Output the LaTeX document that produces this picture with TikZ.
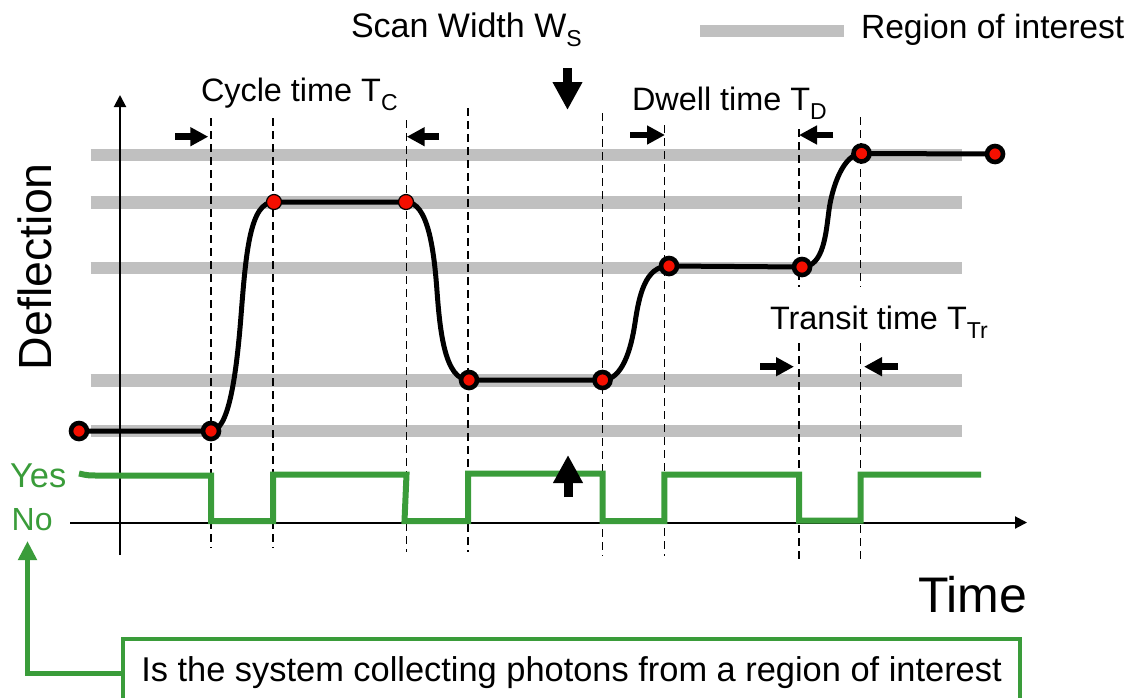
\documentclass[tikz,border=0pt]{standalone}
\usepackage{fontspec}
\setmainfont{Liberation Sans}
\usetikzlibrary{arrows.meta}
\definecolor{sig}{RGB}{58,156,58}
\definecolor{roigray}{RGB}{192,192,192}
\definecolor{dotred}{RGB}{245,15,0}
\newcommand{\lowsub}[1]{\raisebox{-9pt}{\fontsize{23}{26}\selectfont #1}}
\newcommand{\fs}[1]{\fontsize{#1}{#1}\selectfont}
\begin{document}
\begin{tikzpicture}[x=1pt,y=-1pt,
  lbl/.style={inner sep=0pt, outer sep=0pt, anchor=base west},
  band/.style={roigray, line width=12.7pt},
  guide/.style={line width=1.4pt, dash pattern=on 8pt off 5pt},
  curve/.style={line width=5pt},
  dotthick/.style={circle, draw=black, fill=dotred, line width=4.6pt, minimum size=16pt, inner sep=0pt},
  dotthin/.style={circle, draw=black, fill=dotred, line width=1.2pt, minimum size=15pt, inner sep=0pt},
  signal/.style={sig, line width=6pt},
  smallarr/.style={line width=6.5pt, -{Triangle[length=18pt,width=18pt]}},
  bigarr/.style={line width=9pt, -{Triangle[length=28pt,width=28pt]}},
  axis/.style={line width=2pt, -{Triangle[length=12pt,width=12pt]}},
]
\useasboundingbox (0,0) rectangle (1139,697);
\clip (0,0) rectangle (1139,697);

% regions of interest
\foreach \y in {155,202.5,268,380.5,431} \draw[band] (90.5,\y) -- (962,\y);
\draw[band] (700,31) -- (844,31);

% dashed guides
\draw[guide] (211,118) -- (211,548);
\draw[guide] (273,118) -- (273,548);
\draw[guide] (406.5,120) -- (406.5,552);
\draw[guide] (468,108) -- (468,552);
\draw[guide] (602.7,113) -- (602.7,556);
\draw[guide] (664.3,125) -- (664.3,556);
\draw[guide] (799,129) -- (799,287);
\draw[guide] (799,343) -- (799,559);
\draw[guide] (860.5,117) -- (860.5,287);
\draw[guide] (860.5,343) -- (860.5,559);

% axes
\draw[axis] (120,555) -- (120,95);
\draw[axis] (70,522.5) -- (1027,522.5);

% detection signal
\draw[signal] (79,473.5) .. controls (88,475.5) .. (100,475.5) -- (211,475.5) -- (211,521) -- (273,521)
  -- (273,474.5) -- (406.5,474.5) -- (404.5,521) -- (468,521) -- (468,473.5) -- (602.5,473.5)
  -- (602.5,521) -- (664.3,521) -- (664.3,474.5) -- (799,474.5) -- (799,520.5) -- (860.5,520.5)
  -- (860.5,474.5) -- (981,474.5);

% trajectory
\coordinate (c0) at (79,431);
\coordinate (c1) at (211,431);
\coordinate (c2) at (274,202);
\coordinate (c3) at (406,202);
\coordinate (c4) at (469,380);
\coordinate (c5) at (602.5,380);
\coordinate (c6) at (669,266);
\coordinate (c7) at (802,267);
\coordinate (c8) at (861.5,153.5);
\coordinate (c9) at (995,154);
\draw[curve] (c0) -- (c1) .. controls (228,431) and (236,380) .. (241,316)
  .. controls (246,252) and (250,202) .. (c2) -- (c3)
  .. controls (428,202) and (434,250) .. (437,291)
  .. controls (440,332) and (445,380) .. (c4) -- (c5)
  .. controls (622,380) and (631,350) .. (635,323)
  .. controls (639,296) and (645,266) .. (c6) -- (c7)
  .. controls (824,267) and (826,232) .. (829,210)
  .. controls (832,188) and (843,154) .. (c8) -- (c9);
\node[dotthick] (p0) at (c0) {};
\node[dotthick] (p1) at (c1) {};
\node[dotthin] (p2) at (c2) {};
\node[dotthin] (p3) at (c3) {};
\node[dotthick] (p4) at (c4) {};
\node[dotthick] (p5) at (c5) {};
\node[dotthick] (p6) at (c6) {};
\node[dotthick] (p7) at (c7) {};
\node[dotthick] (p8) at (c8) {};
\node[dotthick] (p9) at (c9) {};

% pointer arrows
\coordinate (sa1) at (567.5,68); \coordinate (sa2) at (567.5,110);
\draw[bigarr] (sa1) -- (sa2);
\coordinate (ua1) at (568,497); \coordinate (ua2) at (568,455);
\draw[bigarr] (ua1) -- (ua2);
\coordinate (ca1) at (175,136.7); \coordinate (ca2) at (208.3,136.7);
\draw[smallarr] (ca1) -- (ca2);
\coordinate (cb1) at (439,136.7); \coordinate (cb2) at (406.7,136.7);
\draw[smallarr] (cb1) -- (cb2);
\coordinate (da1) at (630,135); \coordinate (da2) at (665,135);
\draw[smallarr] (da1) -- (da2);
\coordinate (db1) at (833.3,135); \coordinate (db2) at (799,135);
\draw[smallarr] (db1) -- (db2);
\coordinate (ta1) at (760,366.7); \coordinate (ta2) at (794,366.7);
\draw[smallarr] (ta1) -- (ta2);
\coordinate (tb1) at (898,366.7); \coordinate (tb2) at (864,366.7);
\draw[smallarr] (tb1) -- (tb2);

% labels
\node[lbl] (scan) at (351,37.3) {\fs{34}Scan Width W\lowsub{S}};
\node[lbl] (legend) at (861,38.3) {\fs{33.6}Region of interest};
\node[lbl] (cycle) at (201,101.7) {\fs{32.4}Cycle time T\lowsub{C}};
\node[lbl] (dwell) at (632,110) {\fs{32.4}Dwell time T\lowsub{D}};
\node[lbl] (transit) at (770,329.3) {\fs{32.4}Transit time T\lowsub{Tr}};
\node[lbl, text=sig] (yes) at (10,487.3) {\fs{34.5}Yes};
\node[lbl, text=sig] (no) at (11.7,530) {\fs{32}No};
\node[lbl] (time) at (918,612.7) {\fs{50}Time};
\node[lbl, rotate=90] (defl) at (51.7,370) {\fs{46.5}Deflection};

% question box
\node[draw=sig, line width=3.5pt, minimum width=897pt, minimum height=68pt, inner sep=0pt, outer sep=0pt,
  anchor=north west] (box) at (123,639) {\fs{34.4}Is the system collecting photons from a region of interest};
\coordinate (tip) at (27.5,541);
\draw[sig, line width=5pt, -{Triangle[length=19pt,width=18pt]}] (box.west) -| (tip);
\end{tikzpicture}
\end{document}
